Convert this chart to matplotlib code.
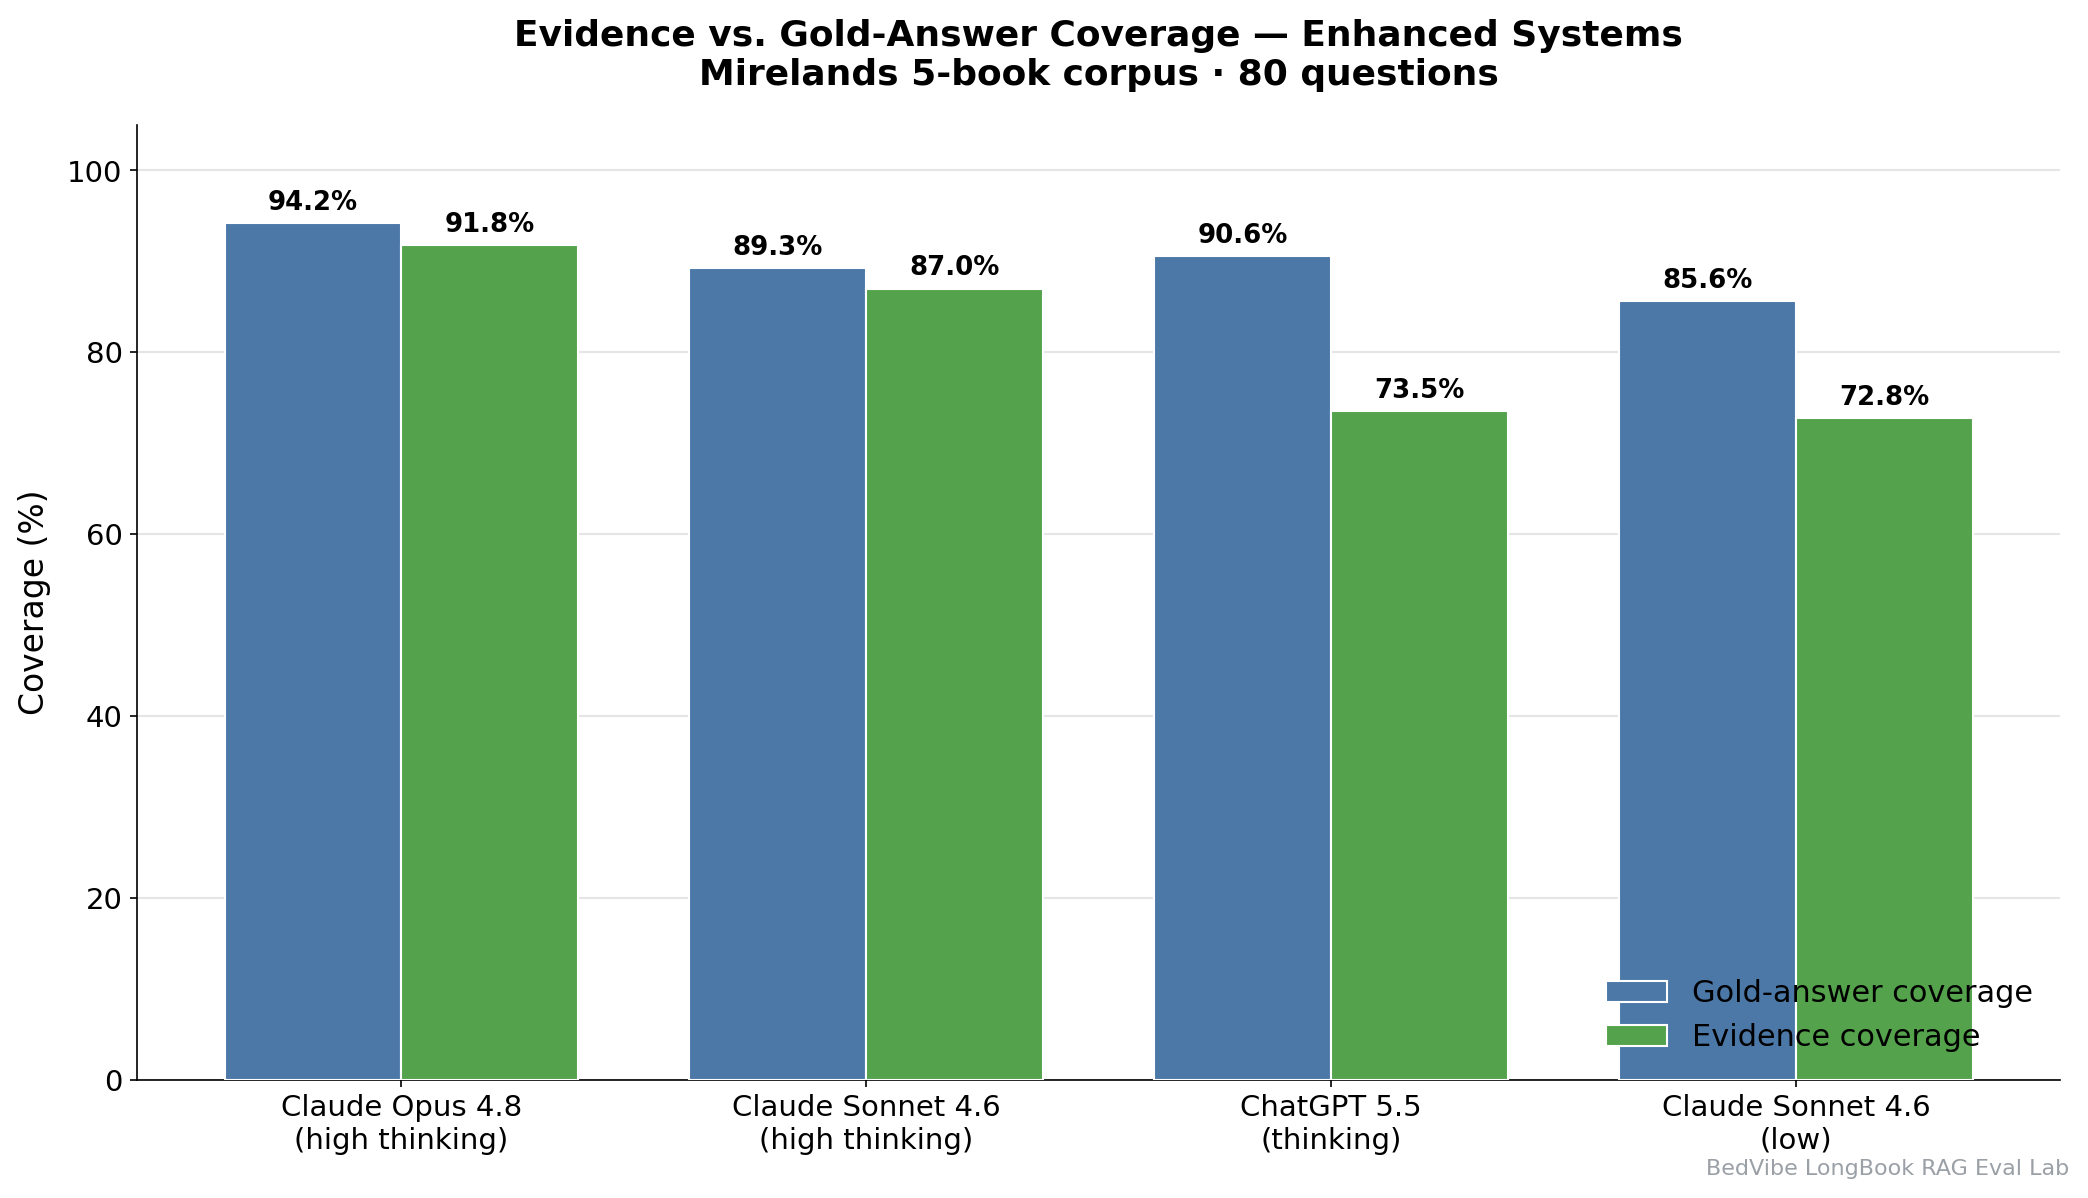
import numpy as np
import matplotlib
matplotlib.use("Agg")
import matplotlib.pyplot as plt

systems = ["Claude Opus 4.8\n(high thinking)", "Claude Sonnet 4.6\n(high thinking)",
           "ChatGPT 5.5\n(thinking)", "Claude Sonnet 4.6\n(low)"]
gold_cov = [94.2, 89.3, 90.6, 85.6]
evid_cov = [91.8, 87.0, 73.5, 72.8]

blue = "#4C78A8"
green = "#54A24B"

fig, ax = plt.subplots(figsize=(13.92, 7.987), dpi=150)
fig.subplots_adjust(left=0.0657, right=0.9866, bottom=0.0989, top=0.8956)

x = np.arange(len(systems))
w = 0.38
b1 = ax.bar(x - w/2, gold_cov, w, color=blue, edgecolor="white", linewidth=1, label="Gold-answer coverage", zorder=3)
b2 = ax.bar(x + w/2, evid_cov, w, color=green, edgecolor="white", linewidth=1, label="Evidence coverage", zorder=3)

for bars in (b1, b2):
    for b in bars:
        h = b.get_height()
        ax.text(b.get_x() + b.get_width()/2, h + 0.8, f"{h:.1f}%", ha="center", va="bottom",
                fontsize=12.5, fontweight="bold")

ax.set_xticks(x)
ax.set_xticklabels(systems, fontsize=14)
ax.tick_params(axis="y", labelsize=14)
ax.set_ylim(0, 105)
ax.set_ylabel("Coverage (%)", fontsize=15.8, labelpad=8)
ax.set_title("Evidence vs. Gold-Answer Coverage — Enhanced Systems\nMirelands 5-book corpus · 80 questions",
             fontsize=17.3, fontweight="bold", pad=19)
ax.yaxis.grid(True, color="#e5e5e5", linewidth=1, zorder=0)
ax.set_axisbelow(True)
ax.spines["top"].set_visible(False)
ax.spines["right"].set_visible(False)
ax.legend(loc="lower right", frameon=False, fontsize=14.6)

fig.text(0.991, 0.016, "BedVibe LongBook RAG Eval Lab", ha="right", va="bottom", fontsize=10.7, color="#9aa0a6")

fig.savefig("out.png", dpi=150)
